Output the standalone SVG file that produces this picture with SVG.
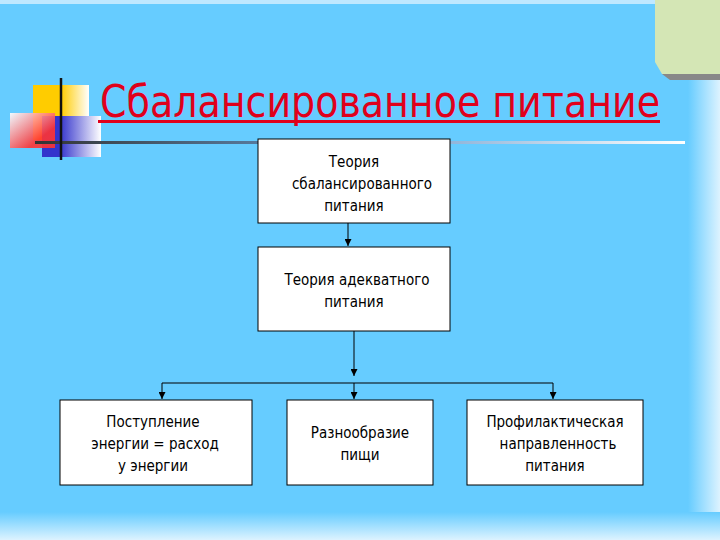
<svg xmlns="http://www.w3.org/2000/svg" width="720" height="540" viewBox="0 0 720 540">
<defs>
<linearGradient id="gy" x1="0" x2="1"><stop offset="0.5" stop-color="#FFCC00"/><stop offset="1" stop-color="#FFFFFF"/></linearGradient>
<linearGradient id="gr" x1="0" y1="0" x2="1" y2="1"><stop offset="0" stop-color="#FFFFFF"/><stop offset="0.7" stop-color="#FF3333"/></linearGradient>
<linearGradient id="gb" x1="0" x2="1"><stop offset="0.3" stop-color="#3333CC"/><stop offset="1" stop-color="#FFFFFF"/></linearGradient>
<linearGradient id="gl" x1="0" x2="1"><stop offset="0" stop-color="#333333"/><stop offset="0.5" stop-color="#6699CC"/><stop offset="1" stop-color="#FFFFFF"/></linearGradient>
<linearGradient id="rb" x1="0" x2="1"><stop offset="0" stop-color="#66CCFF"/><stop offset="1" stop-color="#DDF3FF"/></linearGradient>
<linearGradient id="bb" x1="0" y1="0" x2="0" y2="1"><stop offset="0" stop-color="#66CCFF"/><stop offset="1" stop-color="#DDF3FF"/></linearGradient>
<marker id="ar" viewBox="0 0 10 10" refX="10" refY="5" markerWidth="7" markerHeight="7" orient="auto" markerUnits="userSpaceOnUse"><path d="M0,0 L10,5 L0,10 z" fill="#000"/></marker>
<style>
.box{fill:#fff;stroke:#000;stroke-width:1}
.t{font-family:"DejaVu Sans Condensed","DejaVu Sans",sans-serif;font-stretch:condensed;font-size:15px;text-anchor:middle;fill:#000}
.c{stroke:#000;stroke-width:1;fill:none}
</style>
</defs>
<rect width="720" height="540" fill="#66CCFF"/>
<rect x="688" y="0" width="32" height="540" fill="url(#rb)"/>
<rect x="0" y="512" width="720" height="28" fill="url(#bb)"/>
<rect x="0" y="0" width="720" height="4" fill="#BFE8FF"/>
<polygon points="662,74 720,74 720,80 670,80" fill="#888"/>
<polygon points="655,0 720,0 720,74 662,74 655,62" fill="#D4E6B5"/>
<g id="decor">
<rect x="33" y="85" width="56" height="55" fill="url(#gy)"/>
<rect x="42" y="116" width="59" height="41" fill="url(#gb)"/>
<rect x="10" y="113" width="45" height="35" fill="url(#gr)" opacity="0.9"/>
<rect x="35" y="141" width="650" height="3" fill="url(#gl)"/>
<line x1="61" y1="78" x2="61" y2="160" stroke="#111" stroke-width="2.5"/>
</g>
<g id="title">
<text x="100" y="117" font-family="'DejaVu Sans Condensed','DejaVu Sans',sans-serif" font-stretch="condensed" font-size="44" fill="#E0001B" textLength="560" lengthAdjust="spacingAndGlyphs">Сбалансированное питание</text>
<rect x="98" y="120" width="562" height="3" fill="#E0001B"/>
</g>
<g id="connectors">
<line class="c" x1="348" y1="223" x2="348" y2="246" marker-end="url(#ar)"/>
<line class="c" x1="354" y1="331" x2="354" y2="376" marker-end="url(#ar)"/>
<line class="c" x1="162" y1="383" x2="553" y2="383"/>
<line class="c" x1="162" y1="383" x2="162" y2="399" marker-end="url(#ar)"/>
<line class="c" x1="354" y1="383" x2="354" y2="399" marker-end="url(#ar)"/>
<line class="c" x1="553" y1="383" x2="553" y2="399" marker-end="url(#ar)" stroke-width="1.5"/>
</g>
<g id="n1"><rect class="box" x="258" y="139" width="192" height="84"/>
<text class="t" x="354" y="167">Теория</text><text class="t" x="362" y="189">сбалансированного</text><text class="t" x="354" y="211">питания</text></g>
<g id="n2"><rect class="box" x="258" y="247" width="192" height="84"/>
<text class="t" x="357" y="285">Теория адекватного</text><text class="t" x="354" y="307">питания</text></g>
<g id="n3"><rect class="box" x="60" y="400" width="192" height="85"/>
<text class="t" x="153" y="427">Поступление</text><text class="t" x="155" y="449">энергии = расход</text><text class="t" x="153" y="471">у энергии</text></g>
<g id="n4"><rect class="box" x="287" y="400" width="146" height="85"/>
<text class="t" x="360" y="438">Разнообразие</text><text class="t" x="360" y="460">пищи</text></g>
<g id="n5"><rect class="box" x="467" y="400" width="176" height="85"/>
<text class="t" x="555" y="427">Профилактическая</text><text class="t" x="558" y="449">направленность</text><text class="t" x="555" y="471">питания</text></g>
</svg>
